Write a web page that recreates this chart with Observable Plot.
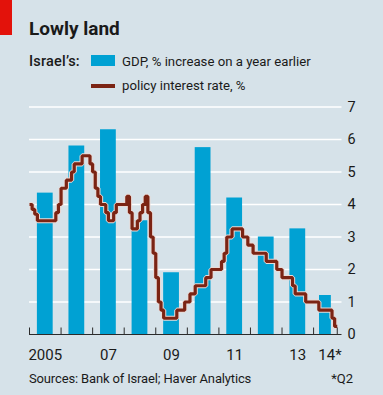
<!DOCTYPE html>
<html><head><meta charset="utf-8">
<script src="https://cdn.jsdelivr.net/npm/d3@7"></script>
<script src="https://cdn.jsdelivr.net/npm/@observablehq/plot@0.6"></script>
<style>
html,body{margin:0;padding:0;background:#d6e2e9;}
#wrap{position:relative;width:383px;height:395px;overflow:hidden;background:#d6e2e9;font-family:Roboto,"Noto Sans",sans-serif;color:#1a1a1a;}
.t{position:absolute;white-space:nowrap;line-height:1;}
#tab{position:absolute;left:0;top:0;width:12px;height:35px;background:#e3120b;}
#title{left:29px;top:19px;font-size:19px;font-weight:700;}
#who{left:29px;top:54.5px;font-size:14.5px;font-weight:500;letter-spacing:0.2px;}
#sw1{position:absolute;left:91px;top:55px;width:24px;height:11px;background:#00a1d3;}
#sw2{position:absolute;left:91px;top:84px;width:24px;height:4px;background:#7b2414;}
#l1{left:122px;top:55px;font-size:13.2px;}
#l2{left:122px;top:78.5px;font-size:13.2px;}
#src{left:29px;top:371.5px;font-size:13px;letter-spacing:-0.15px;}
#note{right:30px;top:371.5px;font-size:13px;}
#chart{position:absolute;left:0;top:94px;}
</style>
</head><body>
<div id="wrap">
  <div id="tab"></div>
  <div class="t" id="title">Lowly land</div>
  <div class="t" id="who">Israel’s:</div>
  <div id="sw1"></div><div class="t" id="l1">GDP, % increase on a year earlier</div>
  <div id="sw2"></div><div class="t" id="l2">policy interest rate, %</div>
  <div id="chart"></div>
  <div class="t" id="src">Sources: Bank of Israel; Haver Analytics</div>
  <div class="t" id="note">*Q2</div>
</div>
<script>
// GDP growth, % on a year earlier (2014: to Q2)
const gdpYears = [2005, 2006, 2007, 2008, 2009, 2010, 2011, 2012, 2013, 2014];
const gdpValues = [4.35, 5.8, 6.3, 3.5, 1.9, 5.75, 4.2, 3.0, 3.25, 1.2];
const gdpPeriodYears = [1, 1, 1, 1, 1, 1, 1, 1, 1, 0.75];

// Policy interest rate, %, monthly from Jan 2005
const rateStart = 2005;
const rateMonthly = [
  4.0, 3.85, 3.7, 3.5, 3.5, 3.5, 3.5, 3.5, 3.5, 3.5, 3.75, 4.0,        // 2005
  4.5, 4.5, 4.75, 4.75, 5.0, 5.25, 5.25, 5.25, 5.5, 5.5, 5.5, 5.25,    // 2006
  5.0, 4.5, 4.25, 4.0, 4.0, 3.75, 3.5, 3.5, 3.75, 4.0, 4.0, 4.0,       // 2007
  4.0, 4.25, 3.75, 3.25, 3.25, 3.5, 3.75, 4.0, 4.25, 3.75, 3.0, 2.5,   // 2008
  1.75, 1.0, 0.75, 0.5, 0.5, 0.5, 0.5, 0.5, 0.75, 0.75, 0.75, 1.0,     // 2009
  1.0, 1.25, 1.25, 1.5, 1.5, 1.5, 1.5, 1.75, 1.75, 2.0, 2.0, 2.0,      // 2010
  2.0, 2.25, 2.5, 3.0, 3.0, 3.25, 3.25, 3.25, 3.25, 3.0, 3.0, 2.75,    // 2011
  2.75, 2.5, 2.5, 2.5, 2.5, 2.5, 2.25, 2.25, 2.25, 2.25, 2.0, 2.0,     // 2012
  1.75, 1.75, 1.75, 1.75, 1.5, 1.25, 1.25, 1.25, 1.25, 1.0, 1.0, 1.0,  // 2013
  1.0, 1.0, 0.75, 0.75, 0.75, 0.75, 0.75, 0.5, 0.25                    // 2014
];

// Axis
const yTicks = [0, 1, 2, 3, 4, 5, 6, 7];
const xTickMarks = [2005, 2006, 2007, 2008, 2009, 2010, 2011, 2012, 2013, 2014, 2014.75];
const xLabels = ["2005", "07", "09", "11", "13", "14*"];
const xLabelAt = [2005.5, 2007.5, 2009.5, 2011.5, 2013.5, 2014.52];
const xDomain = [2005, 2014.9];

const bars = gdpYears.map((y, i) => ({
  x1: y + 0.25 * gdpPeriodYears[i],
  x2: y + 0.75 * gdpPeriodYears[i],
  v: gdpValues[i]
}));
const rate = rateMonthly.map((v, i) => ({x: rateStart + i / 12, v}));
rate.push({x: rateStart + rateMonthly.length / 12, v: rateMonthly[rateMonthly.length - 1]});
const labels = xLabels.map((t, i) => ({t, x: xLabelAt[i]}));

const chart = Plot.plot({
  width: 383,
  height: 270,
  marginLeft: 29,
  marginRight: 41.5,
  marginTop: 12.5,
  marginBottom: 30,
  style: {background: "transparent", fontFamily: "Roboto, 'Noto Sans', sans-serif", fontSize: "14.5px", color: "#1a1a1a"},
  x: {domain: xDomain, axis: null},
  y: {domain: [0, 7], axis: null},
  marks: [
    Plot.ruleY(yTicks.filter(d => d > 0), {stroke: "#ffffff", strokeWidth: 1.5}),
    Plot.rectY(bars, {x1: "x1", x2: "x2", y: "v", fill: "#00a1d3"}),
    Plot.line(rate, {x: "x", y: "v", curve: "step-after", stroke: "#eadad6", strokeWidth: 5.2, strokeLinejoin: "miter", strokeLinecap: "butt"}),
    Plot.line(rate, {x: "x", y: "v", curve: "step-after", stroke: "#7b2414", strokeWidth: 3.2, strokeLinejoin: "miter", strokeLinecap: "butt"}),
    Plot.ruleY([0], {stroke: "#2b2b2b", strokeWidth: 1.2}),
    Plot.ruleX(xTickMarks, {x: d => d, y1: 0, y2: 0.2, stroke: "#2b2b2b", strokeWidth: 1}),
    Plot.axisY(yTicks, {anchor: "right", tickSize: 0, tickPadding: 5.5, label: null, fontSize: 14.5}),
    Plot.text(labels, {x: "x", y: 0, text: "t", dy: 20.5, fontSize: 15, fill: "#1a1a1a"})
  ]
});
document.getElementById("chart").appendChild(chart);
</script>
</body></html>
